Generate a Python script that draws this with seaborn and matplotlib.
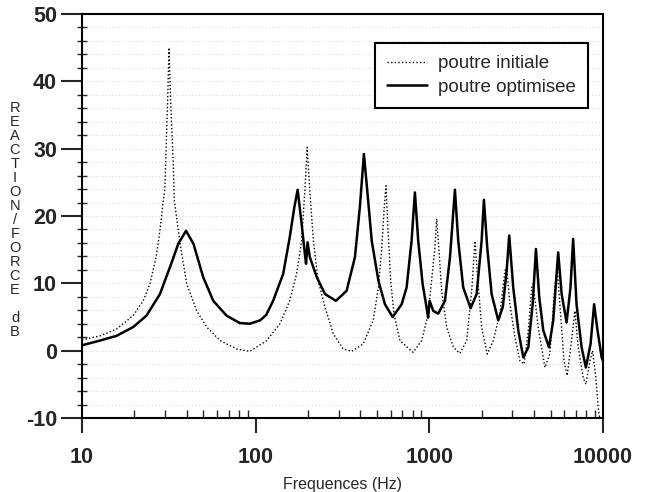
import numpy as np
import pandas as pd
import matplotlib
matplotlib.use("Agg")
import matplotlib.pyplot as plt
import seaborn as sns
from matplotlib.ticker import LogLocator, NullFormatter, FixedLocator, MultipleLocator

# --- data ---
freq_init = [10, 12.7, 15.8, 19.7, 22.5, 24.6, 26.7, 28.1, 29.4, 30.0, 31.1, 31.7, 32.4, 33.6,
             34.0, 36.7, 40.1, 45.8, 52.3, 62.3, 77.8, 92.7, 115.7, 138, 157, 172, 184, 192,
             198, 205, 215, 229, 251, 280, 319, 357, 416, 475, 509, 531, 550, 563, 580, 599,
             626, 677, 740, 807, 903, 984, 1030, 1077, 1102, 1140, 1177, 1258, 1375, 1500,
             1641, 1753, 1833, 1890, 2000, 2155, 2334, 2550, 2725, 2790, 2911, 3111, 3324,
             3508, 3715, 3883, 3960, 4235, 4630, 4940, 5280, 5440, 5700, 5960, 6220, 6590,
             6890, 7200, 7690, 7970, 8410, 8710, 9100, 9380, 9550, 10000]
db_init = [1.6, 2.2, 3.2, 5.2, 7.4, 9.9, 13.9, 17.8, 22.3, 24.0, 37.0, 45.0, 37.0, 27.2,
           22.3, 15.9, 9.9, 5.9, 3.5, 1.5, 0.25, -0.1, 1.5, 4.0, 7.4, 11.4, 16.3, 23.8,
           30.2, 23.8, 16.3, 10.4, 6.4, 2.5, 0.25, -0.1, 1.0, 4.5, 9.4, 14.9, 21.3, 24.5, 17.3, 10.4,
           5.4, 1.5, 0.6, -0.25, 1.5, 5.4, 10.4, 15.3, 19.6, 14.4, 8.9, 3.5, 0.5, -0.4,
           1.5, 8.9, 16.3, 11.4, 3.5, -0.5, 1.5, 5.5, 11.9, 12.4, 6.9, 2.0, -1.5,
           -2.0, 3.0, 9.4, 9.9, 3.5, -2.5, -0.5, 9.4, 12.4, 5.4, -1.5, -3.7, 1.5,
           5.9, 0.5, -4.0, -5.0, -1.5, 0.0, -4.0, -8.4, -9.9, -10.0]

freq_opt = [10, 12.7, 15.8, 19.7, 23.5, 28.1, 32.1, 35.9, 39.7, 43.8, 49.9, 57, 68, 81, 92.7,
            106, 115, 126, 144, 157, 167, 174.5, 184, 192, 195, 199, 205, 225, 251, 290, 334,
            373, 398, 420, 439, 466, 509, 555, 615, 693, 740, 790, 826, 863, 915, 964, 984,
            1004, 1054, 1125, 1230, 1315, 1404, 1467, 1567, 1728, 1872, 2000, 2062, 2155,
            2284, 2494, 2650, 2790, 2884, 3041, 3252, 3475, 3715, 3935, 4111, 4296, 4529,
            4885, 5170, 5520, 5780, 6170, 6500, 6730, 7040, 7530, 7970, 8480, 8890, 9300,
            9820, 10000]
db_opt = [0.8, 1.5, 2.2, 3.5, 5.2, 8.4, 12.4, 15.9, 17.8, 15.9, 10.9, 7.4, 5.2, 4.1, 4.0,
          4.5, 5.3, 7.4, 11.4, 16.8, 21.3, 23.9, 18.8, 14.4, 12.9, 16.1, 13.9, 10.9, 8.4, 7.4, 8.9,
          13.9, 21.3, 29.2, 23.8, 16.3, 10.4, 6.9, 5.0, 6.9, 9.4, 16.3, 23.5, 16.3, 9.9, 6.4, 4.9,
          7.4, 5.9, 5.5, 7.4, 13.9, 23.9, 16.3, 9.4, 6.3, 8.4, 16.3, 22.4, 15.3,
          8.4, 4.5, 6.5, 12.0, 17.1, 9.4, 3.0, -1.0, 0.5, 6.9, 15.1, 7.9, 3.0,
          0.5, 4.5, 14.6, 8.4, 4.2, 9.4, 16.6, 6.9, 0.5, -2.5, 1.0, 6.9, 3.0,
          -1.0, -1.5]

series_names = ["poutre initiale", "poutre optimisee"]
x_ticks = [10, 100, 1000, 10000]
x_ticklabels = ["10", "100", "1000", "10000"]
y_ticks = [-10, 0, 10, 20, 30, 40, 50]

sns.set_theme(style="white")
plt.rcParams['font.family'] = ['Liberation Sans', 'DejaVu Sans']
plt.rcParams['axes.unicode_minus'] = False

fig = plt.figure(figsize=(6.53, 4.92), dpi=100)
ax = fig.add_axes([82/653, 1 - 418/492, (603 - 82)/653, (418 - 14)/492])

df_i = pd.DataFrame({"f": freq_init, "db": db_init})
df_o = pd.DataFrame({"f": freq_opt, "db": db_opt})

sns.lineplot(data=df_i, x="f", y="db", ax=ax, color="black", lw=1.0,
             linestyle=(0, (1, 1.6)), estimator=None, sort=False, label=series_names[0])
sns.lineplot(data=df_o, x="f", y="db", ax=ax, color="black", lw=1.8,
             estimator=None, sort=False, label=series_names[1],
             solid_joinstyle="round")

ax.set_xscale("log")
ax.set_xlim(10, 10000)
ax.set_ylim(-10, 50)

# faint dotted grid
for yv in np.arange(-8, 50, 2):
    ax.axhline(yv, color="#9a9a9a", lw=0.6, linestyle=(0, (1, 3)), alpha=0.6, zorder=0)

ax.xaxis.set_major_locator(FixedLocator(x_ticks))
ax.set_xticklabels(x_ticklabels)
ax.xaxis.set_minor_locator(LogLocator(base=10, subs=np.arange(2, 10)))
ax.xaxis.set_minor_formatter(NullFormatter())
ax.yaxis.set_major_locator(FixedLocator(y_ticks))
ax.set_yticklabels([str(v) for v in y_ticks])
ax.yaxis.set_minor_locator(MultipleLocator(2))

ax.tick_params(axis="x", which="major", direction="out", length=11, width=1.5,
               labelsize=15.5, pad=10, bottom=True, top=False)
ax.tick_params(axis="x", which="minor", direction="in", length=6, width=1.0, bottom=True, top=False)
ax.tick_params(axis="y", which="major", direction="out", length=15, width=1.5,
               labelsize=15.5, pad=3, left=True, right=False)
ax.tick_params(axis="y", which="minor", direction="inout", length=7, width=1.0, left=True, right=False)
for lab in ax.get_xticklabels() + ax.get_yticklabels():
    lab.set_fontweight("bold")

for s in ax.spines.values():
    s.set_color("black")
    s.set_linewidth(1.5)
    s.set_visible(True)

ax.set_xlabel("Frequences (Hz)", fontsize=11.5, labelpad=6)
ax.set_ylabel("")

# stacked vertical y label
ylabel = "REACTION/FORCE dB"
fig.text(15/653, 1 - 220/492, "\n".join(ylabel), ha="center", va="center",
         fontsize=10.5, linespacing=1.0)

leg = ax.legend(loc="upper left", bbox_to_anchor=(375/653, 1 - 43/492),
                bbox_transform=fig.transFigure, frameon=True, fancybox=False,
                fontsize=13.5, handlelength=2.1, borderpad=0.65, labelspacing=0.35,
                handletextpad=0.6, borderaxespad=0)
leg.get_frame().set_edgecolor("black")
leg.get_frame().set_linewidth(1.5)
leg.get_frame().set_alpha(1.0)

fig.savefig("out.png", dpi=100, facecolor="white")
